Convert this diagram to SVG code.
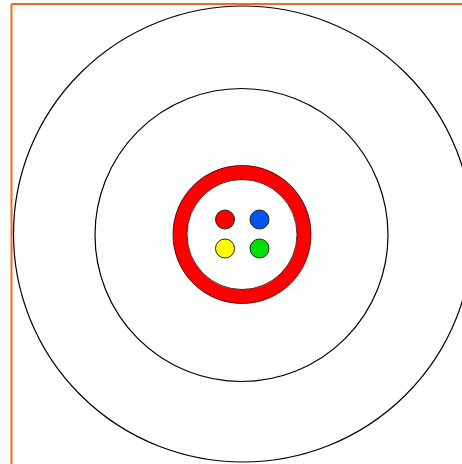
<svg xmlns="http://www.w3.org/2000/svg" width="462" height="464" viewBox="0 0 462 464">
<style>
.ring{fill:none;stroke:#000;stroke-width:1.2}
.dot{stroke:#222;stroke-width:1}
</style>
<rect x="0" y="0" width="462" height="464" fill="#fff"/>
<g id="frame">
<line x1="11.5" y1="4" x2="462" y2="4" stroke="#f06a24" stroke-width="2"/>
<line x1="11.5" y1="4" x2="11.5" y2="464" stroke="#f06a24" stroke-width="2"/>
</g>
<g id="outer-circle"><ellipse cx="243" cy="234" rx="229.5" ry="228" class="ring"/></g>
<g id="middle-circle"><circle cx="241.5" cy="235" r="146.5" class="ring" style="fill:#fcfdfd"/></g>
<g id="red-ring">
<circle cx="242" cy="234.5" r="62" fill="#fff" stroke="#ff0000" stroke-width="14"/>
<circle cx="242" cy="234.5" r="69" fill="none" stroke="#300" stroke-width="0.8"/>
<circle cx="242" cy="234.5" r="55" fill="none" stroke="#300" stroke-width="0.8"/>
</g>
<g id="dots">
<circle cx="225" cy="219.5" r="9.5" class="dot" fill="#ff0000"/>
<circle cx="259.5" cy="219.5" r="9.5" class="dot" fill="#0055ee"/>
<circle cx="225" cy="248.5" r="9.5" class="dot" fill="#ffff00"/>
<circle cx="259.5" cy="248.5" r="9.5" class="dot" fill="#00e000"/>
</g>
</svg>
